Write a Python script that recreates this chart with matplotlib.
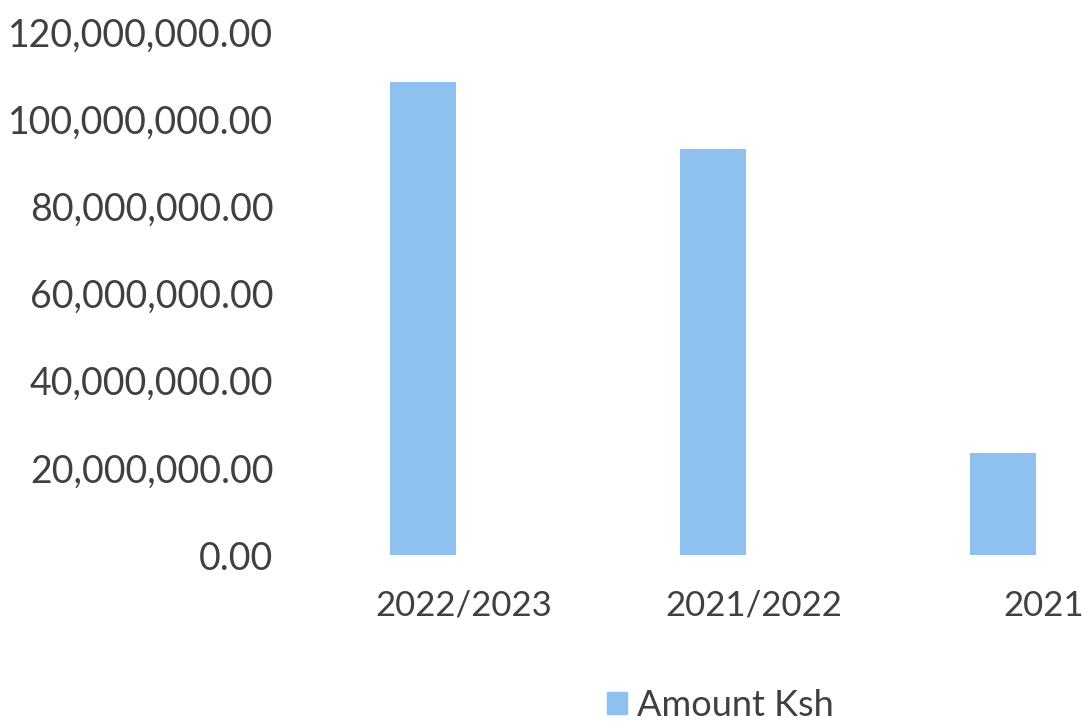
import matplotlib
matplotlib.use('Agg')
import matplotlib.pyplot as plt
from matplotlib.ticker import FuncFormatter
from matplotlib.transforms import ScaledTranslation
from matplotlib.patches import Patch

plt.rcParams['font.family'] = ['Lato', 'DejaVu Sans']

# data
years = ['2022/2023', '2021/2022', '2021']
amount_ksh = [108500000, 93200000, 23400000]
y_ticks = [0, 20000000, 40000000, 60000000, 80000000, 100000000, 120000000]

bar_color = '#8ec0f0'
text_color = '#404040'

fig = plt.figure(figsize=(10.85, 7.24), dpi=100)
# axes runs past the right edge, the source image is cropped there
ax = fig.add_axes([0.256, 0.2334, 0.802, 0.7224])

ax.bar(range(len(years)), amount_ksh, width=0.227, color=bar_color)
ax.set_xlim(-0.5, 2.5)
ax.set_ylim(0, 120000000)
ax.set_yticks(y_ticks)
ax.yaxis.set_major_formatter(FuncFormatter(lambda v, p: f'{v:,.2f}'))
ax.set_xticks(range(len(years)))
ax.set_xticklabels(years)

for s in ax.spines.values():
    s.set_visible(False)
ax.tick_params(axis='both', length=0, colors=text_color)
ax.tick_params(axis='y', pad=3, labelsize=27)
ax.tick_params(axis='x', pad=25, labelsize=25)

# category labels sit a bit right of the bars in the original
for lbl in ax.get_xticklabels():
    lbl.set_transform(lbl.get_transform() + ScaledTranslation(0.41, 0, fig.dpi_scale_trans))

fig.legend(handles=[Patch(color=bar_color, label='Amount Ksh')],
           loc='center', bbox_to_anchor=(0.664, 0.026), frameon=False,
           fontsize=26, labelcolor=text_color, handlelength=0.55, handleheight=0.55,
           handletextpad=0.3)

fig.savefig('out.png', dpi=100)
